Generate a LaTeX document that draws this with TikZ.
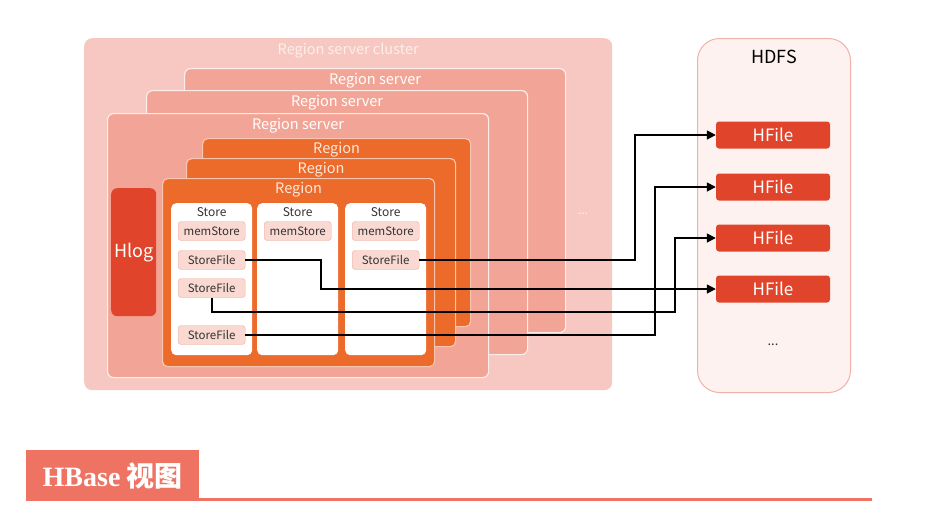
\documentclass[tikz,border=0pt]{standalone}
\usepackage{fontspec}
\setmainfont{Noto Sans CJK SC}
\newfontfamily\cjk{Noto Sans CJK SC}
\newfontfamily\tagfont{Liberation Serif}
\usetikzlibrary{arrows.meta, positioning}
\definecolor{clusterpink}{HTML}{F6C8C1}
\definecolor{clustertext}{HTML}{FDEEEB}
\definecolor{rsfill}{HTML}{F2A596}
\definecolor{regionfill}{HTML}{EC6A2A}
\definecolor{regionedge}{HTML}{F8C6AE}
\definecolor{regiontext}{HTML}{FDE8DC}
\definecolor{filefill}{HTML}{F9D9D1}
\definecolor{filedraw}{HTML}{EFAC9F}
\definecolor{textdark}{HTML}{333333}
\definecolor{hlogred}{HTML}{E0442A}
\definecolor{hfilered}{HTML}{E0452B}
\definecolor{hdfsfill}{HTML}{FEF2F0}
\definecolor{hdfsdraw}{HTML}{F0B1A7}
\definecolor{tagred}{HTML}{EE7363}

\begin{document}
\begin{tikzpicture}[x=1pt, y=-1pt,
    panel/.style={anchor=north west, inner sep=0pt, rounded corners=#1},
    panel/.default=6pt,
    rsbox/.style={panel, fill=rsfill, draw=white!80!rsfill, line width=1.2pt},
    regionbox/.style={panel=5pt, fill=regionfill, draw=regionedge, line width=1.2pt},
    storebox/.style={panel=5pt, fill=white, minimum width=81, minimum height=152},
    filebox/.style={draw=filedraw, fill=filefill, rounded corners=3pt, minimum width=67,
                    minimum height=19, inner sep=0pt, text=textdark, font=\fontsize{11.5}{13}\selectfont},
    hfilebox/.style={fill=hfilered, rounded corners=3pt, minimum width=114, minimum height=27,
                     inner sep=0pt, text=white, font=\fontsize{17}{20}\selectfont},
    title/.style={font=\fontsize{14.5}{17}\selectfont},
    link/.style={line width=1.6pt, -{Triangle[length=9pt, width=9pt]}}]
    \useasboundingbox (0,0) rectangle (947,520);

    % --- Cluster ---
    \node[panel=8pt, fill=clusterpink, minimum width=528, minimum height=352] (cluster) at (84,38) {};
    \node[title, text=clustertext] (clusterlabel) at ([yshift=-12.5pt]cluster.north) {Region server cluster};
    \node[text=clustertext, font=\fontsize{12}{14}\selectfont] (clusterdots) at (583,214) {...};

    % --- Region servers ---
    \foreach \x/\y/\n in {184/68/rsa, 146/90/rsb, 107/113/rsc} {
        \node[rsbox, minimum width=381, minimum height=264] (\n) at (\x,\y) {};
        \node[title, text=white] (\n label) at ([yshift=-12.5pt]\n.north) {Region server};
    }

    % --- Hlog ---
    \node[panel, fill=hlogred, minimum width=45, minimum height=128, text=white,
          font=\fontsize{18}{21}\selectfont] (hlog) at (111,188) {Hlog};

    % --- Regions ---
    \foreach \x/\y/\w/\n in {202/138/268/rga, 186/158/269/rgb, 162/178/272/rgc} {
        \node[regionbox, minimum width=\w, minimum height=188] (\n) at (\x,\y) {};
        \node[title, text=regiontext] (\n label) at ([yshift=-11.5pt]\n.north) {Region};
    }
    \node[text=regionedge, font=\fontsize{12}{14}\selectfont] (regiondots) at (445,261) {...};

    % --- Stores ---
    \foreach \x/\n in {171/sta, 257/stb, 345/stc} {
        \node[storebox] (\n) at (\x,203) {};
        \node[text=textdark, font=\fontsize{12}{14}\selectfont] (\n label) at ([yshift=-9.5pt]\n.north) {Store};
        \node[filebox] (\n mem) at ([yshift=-28pt]\n.north) {memStore};
    }
    \node[filebox] (sfa1) at ([yshift=-57pt]sta.north) {StoreFile};
    \node[filebox] (sfa2) at ([yshift=-85pt]sta.north) {StoreFile};
    \node[filebox] (sfa3) at ([yshift=-132pt]sta.north) {StoreFile};
    \node[filebox] (sfc1) at ([yshift=-57pt]stc.north) {StoreFile};

    % --- HDFS ---
    \node[panel=22pt, fill=hdfsfill, draw=hdfsdraw, line width=1pt, minimum width=153,
          minimum height=354] (hdfs) at (697,38) {};
    \node[text=black, font=\fontsize{18}{21}\selectfont] (hdfslabel) at ([yshift=-19pt]hdfs.north) {HDFS};
    \foreach \y/\n in {135/hfa, 187/hfb, 238/hfc, 289/hfd} {
        \node[hfilebox] (\n) at (773,\y) {HFile};
    }
    \node[text=textdark, font=\fontsize{13}{15}\selectfont] (hdfsdots) at (773,345) {...};

    % --- Liens StoreFile -> HFile ---
    \coordinate (bx1) at (635,0);
    \coordinate (bx2) at (321,0);
    \coordinate (bx4) at (655,0);
    \coordinate (lo3) at (675,312);
    \draw[link] (sfc1.east) -- (sfc1.east -| bx1) |- (hfa.west);
    \draw[link] (sfa1.east) -- (sfa1.east -| bx2) |- (hfd.west);
    \draw[link] (sfa2.south) |- (lo3) |- (hfc.west);
    \draw[link] (sfa3.east) -- (sfa3.east -| bx4) |- (hfb.west);

    % --- Titre ---
    \node[anchor=north west, fill=tagred, minimum width=173, minimum height=51, inner sep=0pt,
          text=white, font=\fontsize{28}{32}\selectfont] (tag) at (26,450)
          {{\tagfont\bfseries HBase} {\cjk\bfseries 视图}};
    \coordinate (ruleend) at (872,499.5);
    \draw[tagred, line width=3pt] (tag.south east |- ruleend) -- (ruleend);
\end{tikzpicture}
\end{document}
